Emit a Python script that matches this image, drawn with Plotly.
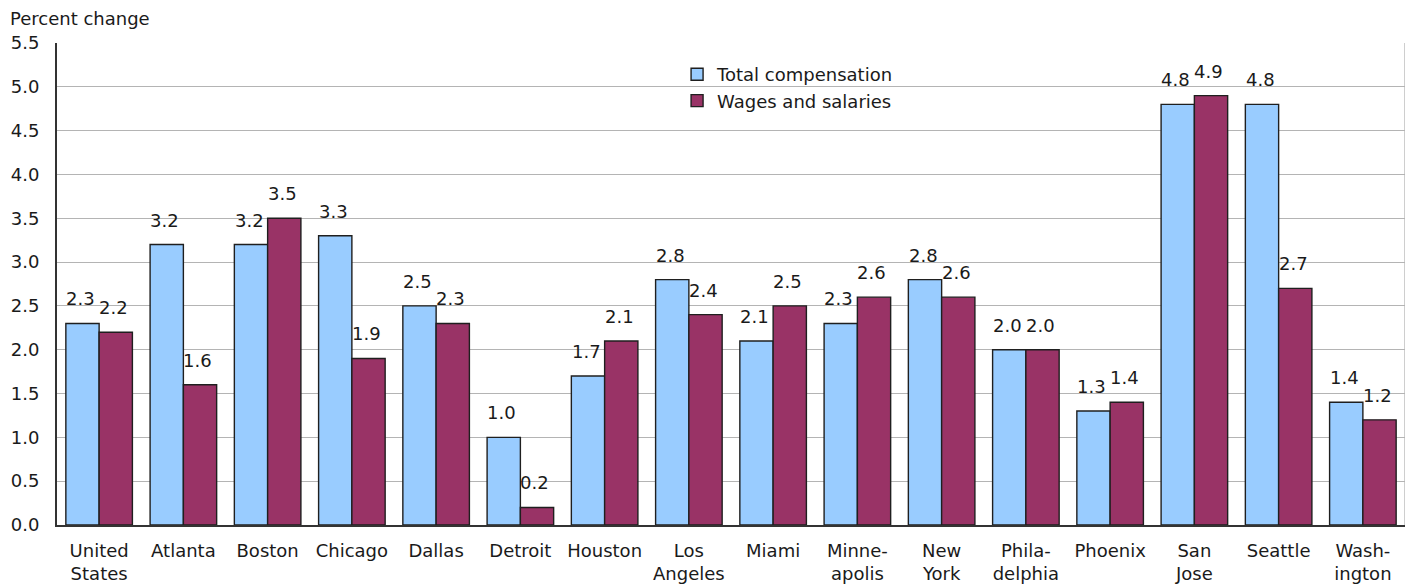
import plotly.graph_objects as go

categories = ["United<br>States", "Atlanta", "Boston", "Chicago", "Dallas", "Detroit", "Houston",
              "Los<br>Angeles", "Miami", "Minne-<br>apolis", "New<br>York", "Phila-<br>delphia",
              "Phoenix", "San<br>Jose", "Seattle", "Wash-<br>ington"]
total_comp = [2.3, 3.2, 3.2, 3.3, 2.5, 1.0, 1.7, 2.8, 2.1, 2.3, 2.8, 2.0, 1.3, 4.8, 4.8, 1.4]
wages = [2.2, 1.6, 3.5, 1.9, 2.3, 0.2, 2.1, 2.4, 2.5, 2.6, 2.6, 2.0, 1.4, 4.9, 2.7, 1.2]
y_ticks = [0.0, 0.5, 1.0, 1.5, 2.0, 2.5, 3.0, 3.5, 4.0, 4.5, 5.0, 5.5]

font_family = "DejaVu Sans, Verdana, sans-serif"
txt_color = "#1a1a1a"

fig = go.Figure()
fig.add_trace(go.Bar(
    x=categories, y=total_comp, name="Total compensation",
    marker=dict(color="#99CCFF", line=dict(color="#1f1f1f", width=1.4)),
))
fig.add_trace(go.Bar(
    x=categories, y=wages, name="Wages and salaries",
    marker=dict(color="#993366", line=dict(color="#1f1f1f", width=1.4)),
))

# value labels above bars
annotations = []
for series, shift in ((total_comp, -18.5), (wages, 14.5)):
    for cat, val in zip(categories, series):
        annotations.append(dict(
            x=cat, y=val, xref="x", yref="y", text=f"{val:.1f}", showarrow=False,
            xanchor="center", yanchor="bottom", xshift=shift, yshift=12,
            font=dict(size=18, color=txt_color, family=font_family)))

annotations.append(dict(text="Percent change", xref="paper", yref="paper", x=0, y=1,
                        xshift=-49, yshift=25, xanchor="left", yanchor="middle",
                        showarrow=False, font=dict(size=18, color=txt_color, family=font_family)))

fig.update_layout(
    width=1413, height=588,
    margin=dict(l=49, r=16, t=35, b=71, autoexpand=False),
    paper_bgcolor="white", plot_bgcolor="white",
    barmode="group", bargap=0.21, bargroupgap=0,
    font=dict(family=font_family, size=18, color=txt_color),
    showlegend=True,
    legend=dict(x=0.46, y=0.973, xanchor="left", yanchor="top",
                bgcolor="rgba(0,0,0,0)", font=dict(size=18, color=txt_color),
                itemwidth=30, tracegroupgap=0),
    xaxis=dict(showgrid=False, showline=True, linecolor="#333333", linewidth=2,
               ticks="", tickfont=dict(size=18), ticklabelstandoff=8, automargin=False),
    yaxis=dict(range=[0, 5.5], tickvals=y_ticks, ticktext=[f"{v:.1f}" for v in y_ticks],
               showgrid=True, gridcolor="#B4B4B4", gridwidth=1.3,
               showline=True, linecolor="#333333", linewidth=2,
               ticks="", tickfont=dict(size=18), zeroline=False, ticklabelstandoff=12,
               automargin=False),
    annotations=annotations,
    shapes=[dict(type="line", xref="paper", yref="paper", x0=1, x1=1, y0=0, y1=1,
                 line=dict(color="#B4B4B4", width=1.3))],
)

fig.write_html("out.html")
